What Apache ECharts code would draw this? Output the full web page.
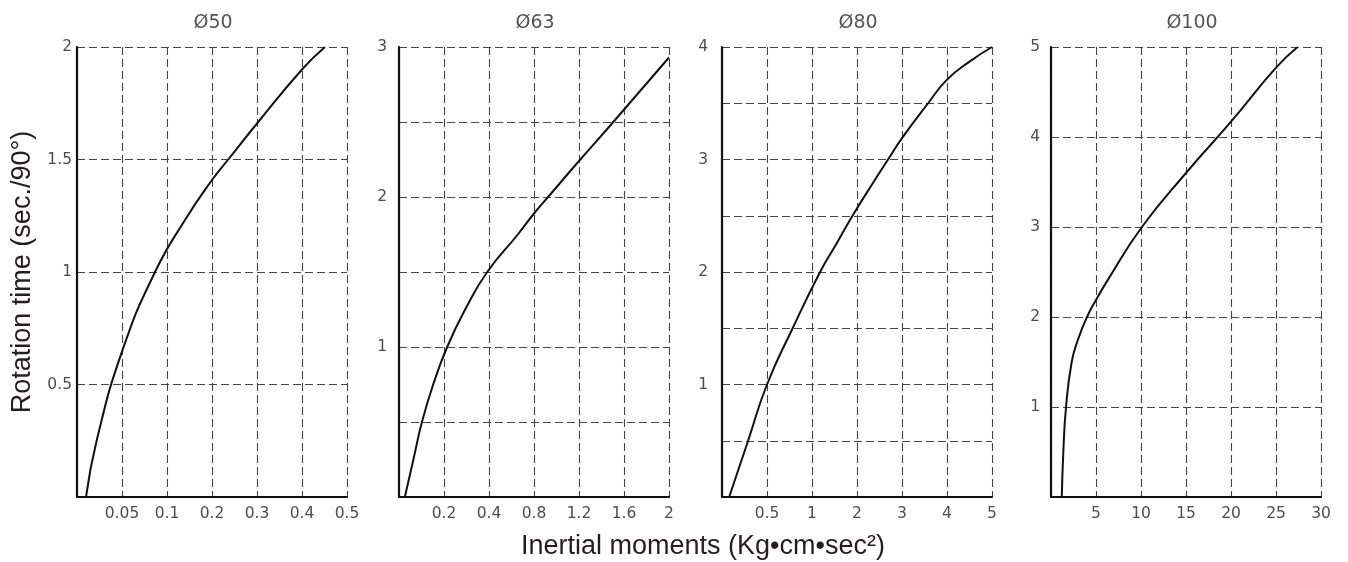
<!DOCTYPE html>
<html>
<head>
<meta charset="utf-8">
<script src="https://cdn.jsdelivr.net/npm/echarts@6/dist/echarts.min.js"></script>
<style>
html,body{margin:0;padding:0;background:#fff;}
#chart{width:1348px;height:562px;}
</style>
</head>
<body>
<div id="chart"></div>
<script>
// ---- data ----
const panelTitles = ['Ø50', 'Ø63', 'Ø80', 'Ø100'];

const ticks50 = [0, 0.05, 0.1, 0.2, 0.3, 0.4, 0.5];
const x50 = [0.01, 0.022, 0.05, 0.0867, 0.14, 0.2, 0.236, 0.3, 0.4, 0.451];
const y50 = [0, 0.253, 0.646, 1, 1.231, 1.409, 1.5, 1.66, 1.9, 2];

const ticks63 = [0, 0.2, 0.4, 0.8, 1.2, 1.6, 2];
const x63 = [0.026, 0.064, 0.102, 0.152, 0.214, 0.294, 0.392, 0.656, 0.8, 0.925, 1.2, 1.505, 2];
const y63 = [0, 0.25, 0.5, 0.75, 1, 1.25, 1.5, 1.75, 1.89, 2, 2.24, 2.5, 2.93];

const ticks80 = [0, 0.5, 1, 2, 3, 4, 5];
const x80 = [0.08, 0.29, 0.5, 0.785, 1.18, 1.55, 1.9, 2.4, 2.69, 3, 3.58, 4, 4.5, 5];
const y80 = [0, 0.5, 1, 1.5, 2, 2.255, 2.5, 2.82, 3, 3.19, 3.5, 3.71, 3.87, 4];

const ticks100 = [0, 5, 10, 15, 20, 25, 30];
const x100 = [1.2, 1.37, 1.67, 2.3, 3.0, 4.0, 5, 6.3, 10.1, 15, 20, 25, 27.4];
const y100 = [0, 0.5, 1, 1.5, 1.75, 2, 2.19, 2.41, 3, 3.6, 4.17, 4.77, 5];

const yMaxes = [2, 3, 4, 5];
const ySteps = [0.5, 0.5, 0.5, 1];

const yAxisTitle = 'Rotation time (sec./90°)';
const xAxisTitle = 'Inertial moments (Kg•cm•sec²)';

// ---- layout ----
const gridLefts = [77, 399, 722, 1051];
const yLabelMargins = [5, 12, 14, 11];
const gridTop = 47, gridW = 270, gridH = 450;

const tickSets = [ticks50, ticks63, ticks80, ticks100];
const xs = [x50, x63, x80, x100];
const ys = [y50, y63, y80, y100];

// the x axes are piecewise (equal spacing between uneven tick values)
function toPos(v, ticks) {
  for (let i = 0; i < ticks.length - 1; i++) {
    if (v <= ticks[i + 1]) return i + (v - ticks[i]) / (ticks[i + 1] - ticks[i]);
  }
  return ticks.length - 1;
}

const labelFont = { fontFamily: 'DejaVu Sans', fontSize: 15.5, color: '#4d4d4d' };
const dash = { type: [8, 4], color: '#444', width: 1.1 };

const grids = [], xAxes = [], yAxes = [], series = [], graphics = [];
for (let p = 0; p < 4; p++) {
  const ticks = tickSets[p];
  grids.push({ left: gridLefts[p], top: gridTop, width: gridW, height: gridH, containLabel: false });
  xAxes.push({
    type: 'value', gridIndex: p, min: 0, max: ticks.length - 1, interval: 1,
    axisLine: { show: true, onZero: false, lineStyle: { color: '#111', width: 2 } },
    axisTick: { show: false },
    splitLine: { show: true, lineStyle: dash },
    axisLabel: Object.assign({
      margin: 9,
      formatter: v => (v === 0 ? '' : String(ticks[Math.round(v)]))
    }, labelFont)
  });
  const integerOnly = p > 0;
  yAxes.push({
    type: 'value', gridIndex: p, min: 0, max: yMaxes[p], interval: ySteps[p],
    axisLine: { show: true, onZero: false, lineStyle: { color: '#111', width: 2.2 } },
    axisTick: { show: false },
    splitLine: { show: true, lineStyle: dash },
    axisLabel: Object.assign({
      margin: yLabelMargins[p],
      formatter: v => {
        if (v === 0) return '';
        if (integerOnly && Math.abs(v - Math.round(v)) > 1e-9) return '';
        return String(v);
      }
    }, labelFont)
  });
  series.push({
    type: 'line', xAxisIndex: p, yAxisIndex: p,
    data: xs[p].map((x, i) => [toPos(x, ticks), ys[p][i]]),
    smooth: 0.5, showSymbol: false, symbol: 'none',
    lineStyle: { color: '#111', width: 2 },
    clip: false, silent: true
  });
  graphics.push({
    type: 'text', x: gridLefts[p] + gridW / 2 + (p === 3 ? 6 : 1), y: 23,
    style: { text: panelTitles[p], fontFamily: 'DejaVu Sans', fontSize: 19,
             fill: '#555', textAlign: 'center', textVerticalAlign: 'middle' }
  });
}
graphics.push({
  type: 'text', x: 23, y: 272, rotation: Math.PI / 2,
  style: { text: yAxisTitle, fontFamily: 'Liberation Sans', fontSize: 27, fill: '#231f20',
           textAlign: 'center', textVerticalAlign: 'middle' }
});
graphics.push({
  type: 'text', x: 703, y: 547,
  style: { text: xAxisTitle, fontFamily: 'Liberation Sans', fontSize: 27, fill: '#231f20',
           textAlign: 'center', textVerticalAlign: 'middle' }
});

const chart = echarts.init(document.getElementById('chart'), null, { renderer: 'canvas' });
chart.setOption({
  animation: false,
  backgroundColor: '#fff',
  grid: grids, xAxis: xAxes, yAxis: yAxes, series: series,
  graphic: graphics
});
</script>
</body>
</html>
